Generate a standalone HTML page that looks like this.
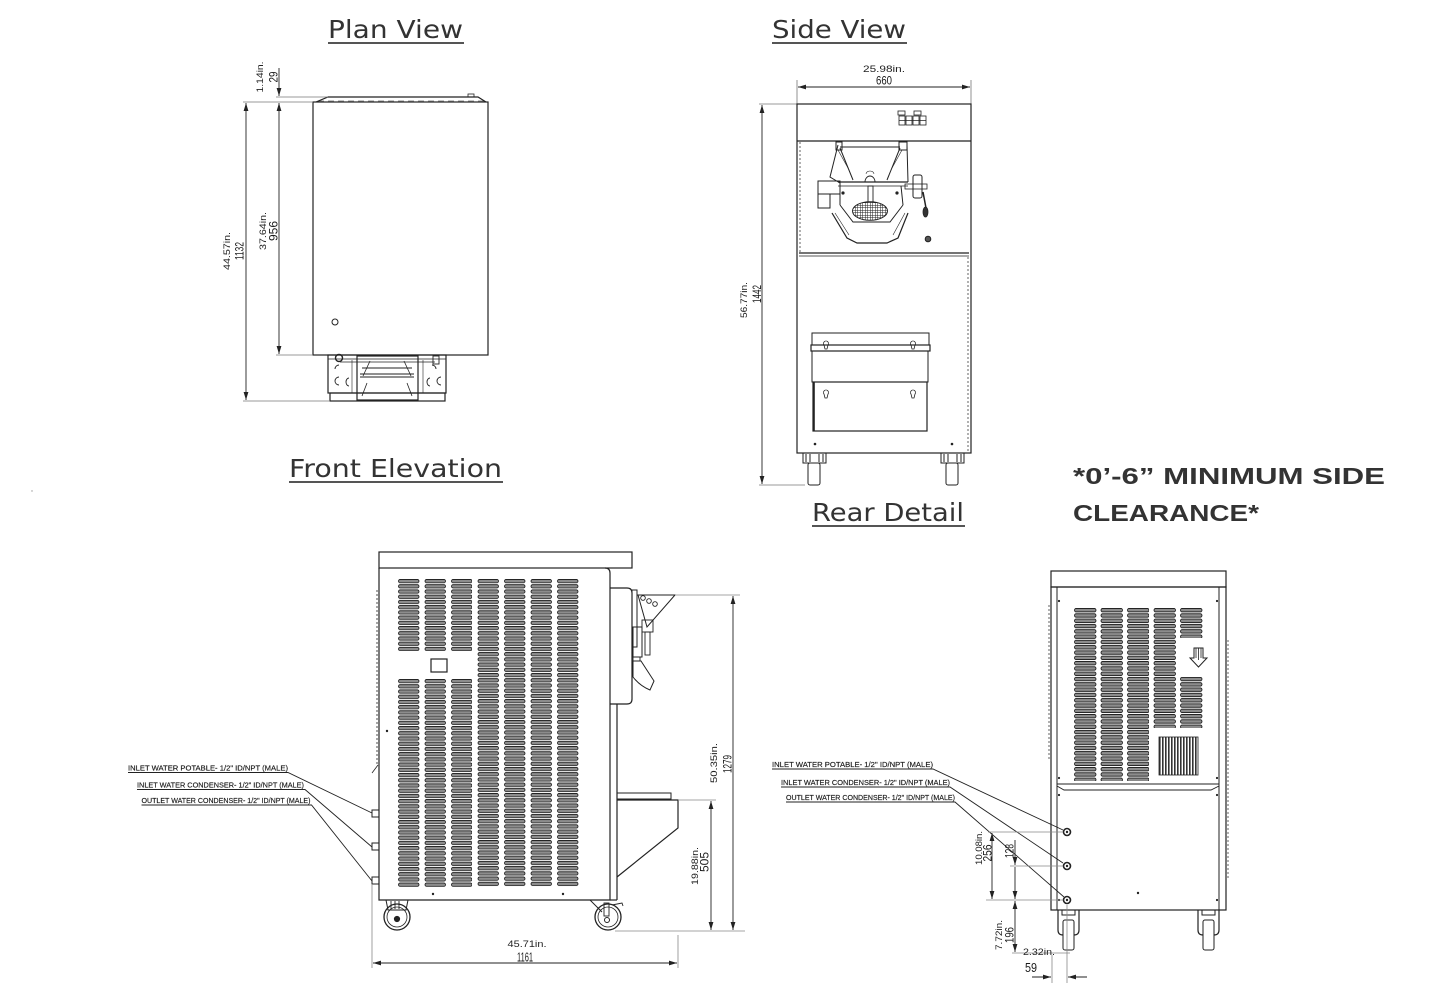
<!DOCTYPE html>
<html><head><meta charset="utf-8"><title>Dimensions</title>
<style>
html,body{margin:0;padding:0;background:#fff;}
svg{display:block;}
.t{font-family:"DejaVu Sans","Liberation Sans",sans-serif;fill:#333;}
.d{font-family:"Liberation Sans",sans-serif;fill:#222;}
.n{font-family:"Liberation Sans",sans-serif;fill:#1a1a1a;}
.l{font-family:"Liberation Sans",sans-serif;fill:#1a1a1a;stroke:#1a1a1a;stroke-width:0.15;}
.b{font-family:"Liberation Sans",sans-serif;fill:#333;font-weight:bold;}
</style></head>
<body>
<svg width="1436" height="986" viewBox="0 0 1436 986" xmlns="http://www.w3.org/2000/svg">
<defs>
<marker id="ar" viewBox="0 0 10 6" refX="10" refY="3" markerWidth="8" markerHeight="5" orient="auto-start-reverse" markerUnits="userSpaceOnUse"><path d="M0,0L10,3L0,6z" fill="#222"/></marker>
<pattern id="fs1" patternUnits="userSpaceOnUse" x="398" y="579" width="26.5" height="5.22"><rect x="0.5" y="0.4" width="20.5" height="3.4" rx="1.7" fill="#8c8c8c" stroke="#111" stroke-width="0.8"/></pattern>
<pattern id="fs2" patternUnits="userSpaceOnUse" x="398" y="679" width="26.5" height="5.22"><rect x="0.5" y="0.4" width="20.5" height="3.4" rx="1.7" fill="#8c8c8c" stroke="#111" stroke-width="0.8"/></pattern>
<pattern id="rs" patternUnits="userSpaceOnUse" x="1074" y="608" width="26.5" height="5.3"><rect x="0.5" y="0.4" width="21.5" height="3.5" rx="1.7" fill="#8c8c8c" stroke="#111" stroke-width="0.8"/></pattern>
<pattern id="vg" patternUnits="userSpaceOnUse" x="1159" y="737" width="3" height="10"><rect x="0" y="0" width="1.6" height="10" fill="#333"/></pattern>
<pattern id="grid" patternUnits="userSpaceOnUse" x="0" y="0" width="2.5" height="2.5"><rect width="2.5" height="2.5" fill="#fff"/><path d="M0,0H2.5M0,0V2.5" stroke="#222" stroke-width="1"/></pattern>
</defs>

<!-- ============ TITLES ============ -->
<text class="t" x="328" y="38" font-size="25" textLength="135" lengthAdjust="spacingAndGlyphs">Plan View</text>
<line x1="328" y1="43" x2="464" y2="43" stroke="#555" stroke-width="2"/>
<text class="t" x="772" y="38" font-size="25" textLength="134" lengthAdjust="spacingAndGlyphs">Side View</text>
<line x1="772" y1="43" x2="907" y2="43" stroke="#555" stroke-width="2"/>
<text class="t" x="289" y="477" font-size="25" textLength="213" lengthAdjust="spacingAndGlyphs">Front Elevation</text>
<line x1="289" y1="482" x2="503" y2="482" stroke="#555" stroke-width="2"/>
<text class="t" x="812" y="521" font-size="25" textLength="152" lengthAdjust="spacingAndGlyphs">Rear Detail</text>
<line x1="812" y1="526" x2="965" y2="526" stroke="#555" stroke-width="2"/>

<text class="b" x="1073" y="484" font-size="23" textLength="312" lengthAdjust="spacingAndGlyphs">*0’-6” MINIMUM SIDE</text>
<text class="b" x="1073" y="521" font-size="23" textLength="186" lengthAdjust="spacingAndGlyphs">CLEARANCE*</text>

<!-- ============ PLAN VIEW ============ -->
<g fill="none" stroke="#222" stroke-width="1.2">
<rect x="313" y="102" width="175" height="253"/>
<path d="M316,102 L328,97 L478,97 L486,102"/>
<rect x="468" y="94" width="6" height="3" stroke-width="0.8"/>
<line x1="318" y1="101" x2="484" y2="101" stroke-dasharray="6,4" stroke-width="0.6"/>
<circle cx="335" cy="322" r="3" stroke-width="1"/>
<rect x="328" y="355" width="118" height="38"/>
<rect x="330" y="393" width="115" height="8"/>
<rect x="357" y="356" width="61" height="44"/>
<line x1="328" y1="359" x2="446" y2="359" stroke-width="0.8"/>
<line x1="340" y1="362" x2="435" y2="362" stroke-width="0.8"/>
<line x1="362" y1="368" x2="412" y2="368" stroke-width="0.9"/>
<line x1="360" y1="374" x2="414" y2="374" stroke-width="0.9"/>
<line x1="360" y1="377" x2="414" y2="377" stroke-width="0.9"/>
<line x1="370" y1="361" x2="363" y2="376" stroke-width="0.8"/>
<line x1="404" y1="361" x2="411" y2="376" stroke-width="0.8"/>
<line x1="362" y1="396" x2="367" y2="383" stroke-width="0.8"/>
<line x1="412" y1="396" x2="407" y2="383" stroke-width="0.8"/>
<circle cx="339" cy="358" r="3.5" stroke-width="1.4"/>
<rect x="433" y="356" width="6" height="8" stroke-width="0.9"/>
<path d="M339,365 a4,4 0 0 0 -4,4" stroke-width="0.9"/>
<path d="M339,377 a4,4 0 0 0 0,8" stroke-width="0.9"/>
<path d="M349,378 a3,4 0 0 0 0,8" stroke-width="0.9"/>
<path d="M432,365 a4,4 0 0 1 4,4" stroke-width="0.9"/>
<path d="M441,377 a4,4 0 0 0 0,8" stroke-width="0.9"/>
<path d="M430,378 a3,4 0 0 0 0,8" stroke-width="0.9"/>
<line x1="352" y1="360" x2="352" y2="393" stroke-width="0.6"/>
<line x1="423" y1="360" x2="423" y2="393" stroke-width="0.6"/>
</g>
<g stroke="#777" stroke-width="0.8">
<line x1="243" y1="102" x2="313" y2="102"/>
<line x1="243" y1="401" x2="330" y2="401"/>
<line x1="276" y1="355" x2="313" y2="355"/>
<line x1="276" y1="97" x2="328" y2="97"/>
</g>
<g stroke="#222" stroke-width="0.9">
<line x1="246" y1="103" x2="246" y2="400" marker-start="url(#ar)" marker-end="url(#ar)"/>
<line x1="279" y1="103" x2="279" y2="354" marker-start="url(#ar)" marker-end="url(#ar)"/>
<line x1="279" y1="68" x2="279" y2="96" marker-end="url(#ar)"/>
</g>
<text class="d" font-size="9.5" text-anchor="middle" transform="translate(230,251) rotate(-90)" textLength="38" lengthAdjust="spacingAndGlyphs">44.57in.</text>
<text class="n" font-size="12" text-anchor="middle" transform="translate(243.5,251) rotate(-90)" textLength="18" lengthAdjust="spacingAndGlyphs">1132</text>
<text class="d" font-size="9.5" text-anchor="middle" transform="translate(266,231) rotate(-90)" textLength="38" lengthAdjust="spacingAndGlyphs">37.64in.</text>
<text class="n" font-size="12" text-anchor="middle" transform="translate(277.5,231) rotate(-90)" textLength="20" lengthAdjust="spacingAndGlyphs">956</text>
<text class="d" font-size="9.5" text-anchor="middle" transform="translate(263,77) rotate(-90)" textLength="31" lengthAdjust="spacingAndGlyphs">1.14in.</text>
<text class="n" font-size="12" text-anchor="middle" transform="translate(277.5,77) rotate(-90)" textLength="11" lengthAdjust="spacingAndGlyphs">29</text>

<!-- ============ SIDE VIEW ============ -->
<g stroke="#777" stroke-width="0.8">
<line x1="797" y1="80" x2="797" y2="104"/>
<line x1="971" y1="80" x2="971" y2="104"/>
<line x1="759" y1="104" x2="797" y2="104"/>
<line x1="759" y1="485" x2="805" y2="485"/>
</g>
<g stroke="#222" stroke-width="0.9">
<line x1="798" y1="87" x2="970" y2="87" marker-start="url(#ar)" marker-end="url(#ar)"/>
<line x1="762" y1="105" x2="762" y2="484" marker-start="url(#ar)" marker-end="url(#ar)"/>
</g>
<text class="d" font-size="9.5" text-anchor="middle" x="884" y="72" textLength="42" lengthAdjust="spacingAndGlyphs">25.98in.</text>
<text class="n" font-size="12" text-anchor="middle" x="884" y="84.5" textLength="16" lengthAdjust="spacingAndGlyphs">660</text>
<text class="d" font-size="9.5" text-anchor="middle" transform="translate(747,300) rotate(-90)" textLength="36" lengthAdjust="spacingAndGlyphs">56.77in.</text>
<text class="n" font-size="12" text-anchor="middle" transform="translate(761,294) rotate(-90)" textLength="18" lengthAdjust="spacingAndGlyphs">1442</text>
<g fill="none" stroke="#222" stroke-width="1.2">
<rect x="797" y="104" width="174" height="349"/>
<line x1="797" y1="141" x2="971" y2="141"/>
<line x1="799" y1="253" x2="969" y2="253"/>
<line x1="799" y1="256" x2="969" y2="256" stroke-width="0.8"/>
<line x1="800" y1="142" x2="800" y2="252" stroke-dasharray="2,2" stroke-width="0.7"/>
<line x1="968" y1="257" x2="968" y2="452" stroke-dasharray="2,2" stroke-width="0.7"/>
<g stroke-width="0.8">
<rect x="898" y="111" width="7" height="4"/><rect x="914" y="111" width="7" height="4"/>
<rect x="899" y="116" width="6" height="9"/><rect x="906" y="116" width="6" height="9"/><rect x="913" y="116" width="6" height="9"/><rect x="920" y="116" width="6" height="9"/>
<line x1="899" y1="120.5" x2="926" y2="120.5"/>
</g>
<path d="M838,145 L830,177 L840,183 M907,145 L908,182" stroke-width="1"/>
<rect x="836" y="142" width="6" height="8" stroke-width="1"/>
<rect x="899" y="142" width="8" height="8" stroke-width="1"/>
<line x1="840" y1="147" x2="900" y2="147" stroke-width="1"/>
<path d="M840,148 L853,180 M900,148 L887,180" stroke-width="1"/>
<path d="M838,150 L848,168" stroke-width="0.6"/>
<path d="M902,150 L892,168" stroke-width="0.6"/>
<line x1="838" y1="182" x2="908" y2="182"/>
<line x1="838" y1="186" x2="908" y2="186" stroke-width="0.8"/>
<path d="M865,182 a5,6 0 0 1 10,0" stroke-width="0.9"/>
<path d="M866,174 a4,3 0 0 1 8,0" stroke-width="0.6"/>
<rect x="868" y="186" width="5" height="24" stroke-width="0.9"/>
<ellipse cx="870" cy="211" rx="17.5" ry="9.3" fill="url(#grid)" stroke-width="1"/>
<rect x="818" y="181" width="22" height="13" stroke-width="1"/>
<rect x="818" y="194" width="12" height="14" stroke-width="1"/>
<line x1="840" y1="186" x2="840" y2="205" stroke-width="1"/>
<line x1="901" y1="186" x2="903" y2="205" stroke-width="1"/>
<path d="M840,205 L853,222 L890,222 L903,205" stroke-width="1"/>
<path d="M832,213 L847,238 L857,243 L887,243 L898,238 L908,213" stroke-width="1.2"/>
<path d="M835,213 L849,235 M905,213 L893,235" stroke-width="0.6"/>
<rect x="913" y="175" width="9" height="23" rx="2" stroke-width="1"/>
<rect x="905" y="184" width="22" height="5" stroke-width="0.8"/>
<path d="M923,192 L926,208" stroke-width="1.5"/>
<ellipse cx="925.5" cy="212" rx="2.5" ry="5" fill="#333" stroke-width="0.8"/>
<circle cx="928" cy="239" r="2.8" fill="#555" stroke-width="1"/>
<circle cx="843" cy="193" r="1" fill="#222"/><circle cx="897" cy="193" r="1" fill="#222"/>
<rect x="812" y="333" width="117" height="12" stroke-width="1"/>
<rect x="811" y="345" width="119" height="6" stroke-width="1.2"/>
<rect x="812" y="351" width="116" height="31" stroke-width="1"/>
<rect x="813" y="382" width="114" height="49" stroke-width="1.2"/>
<line x1="814" y1="382" x2="814" y2="431" stroke-width="1.6"/>
<path d="M824,345 a2.5,2.5 0 1 1 4,0 l-1,4 h-2 z" stroke-width="0.8"/>
<path d="M911,345 a2.5,2.5 0 1 1 4,0 l-1,4 h-2 z" stroke-width="0.8"/>
<path d="M824,394 a2.5,2.5 0 1 1 4,0 l-1,4 h-2 z" stroke-width="0.8"/>
<path d="M911,394 a2.5,2.5 0 1 1 4,0 l-1,4 h-2 z" stroke-width="0.8"/>
<rect x="803" y="453" width="23" height="10" stroke-width="1"/>
<path d="M806,454 v8 M810,454 v8 M819,454 v8 M823,454 v8" stroke-width="1"/>
<rect x="808" y="463" width="12" height="22" rx="2" stroke-width="1"/>
<rect x="941" y="453" width="23" height="10" stroke-width="1"/>
<path d="M944,454 v8 M948,454 v8 M957,454 v8 M961,454 v8" stroke-width="1"/>
<rect x="946" y="463" width="12" height="22" rx="2" stroke-width="1"/>
</g>
<circle cx="815" cy="444" r="1.3" fill="#222"/><circle cx="952" cy="444" r="1.3" fill="#222"/>

<!-- ============ FRONT ELEVATION ============ -->
<rect x="398" y="579" width="74" height="72" fill="url(#fs1)"/>
<rect x="477.5" y="579" width="101" height="308" fill="url(#fs1)"/>
<rect x="398" y="679" width="74" height="208" fill="url(#fs2)"/>
<g fill="none" stroke="#222" stroke-width="1.2">
<rect x="379" y="552" width="253" height="16"/>
<path d="M379,568 L379,900 L610,900 L610,573 Q610,568 605,568"/>
<path d="M610,588 L627,588 Q632,588 632,593 L632,699 Q632,704 627,704 L610,704"/>
<line x1="617" y1="704" x2="617" y2="900"/>
<line x1="610" y1="900" x2="617" y2="900"/>
<rect x="431" y="659" width="16" height="13"/>
<line x1="377" y1="590" x2="377" y2="765" stroke-dasharray="2,2" stroke-width="0.8"/>
<line x1="372" y1="773" x2="378" y2="765" stroke-width="0.8"/>
<rect x="632" y="590" width="5" height="57" stroke-width="1"/>
<path d="M638,595 L675,595 L647,627 Z" stroke-width="1"/>
<circle cx="643" cy="598" r="2.3" stroke-width="0.9"/>
<circle cx="649" cy="601" r="2.3" stroke-width="0.9"/>
<circle cx="655" cy="604" r="2.3" stroke-width="0.9"/>
<rect x="633" y="627" width="9" height="30" stroke-width="1"/>
<rect x="642" y="620" width="11" height="12" stroke-width="0.9"/>
<rect x="645" y="632" width="5" height="23" stroke-width="0.9"/>
<rect x="633" y="657" width="7" height="4" stroke-width="0.9"/>
<path d="M633,661 L641,661 L654,681 L650,690 Q640,686 633,677 Z" stroke-width="1"/>
<rect x="372" y="810" width="7" height="7" stroke-width="1"/>
<rect x="372" y="843" width="7" height="7" stroke-width="1"/>
<rect x="372" y="877" width="7" height="7" stroke-width="1"/>
<rect x="617" y="793" width="54" height="6" stroke-width="1"/>
<path d="M617,800 L678,800 L678,828 L617,877" stroke-width="1.2"/>
<path d="M386,900 L388,910 L406,910 L408,900" stroke-width="1"/>
<path d="M391,901 v8 M395,901 v8 M399,901 v8" stroke-width="0.9"/>
<circle cx="397" cy="917" r="13" stroke-width="1.3"/>
<circle cx="397" cy="917" r="10" stroke-width="0.8"/>
<circle cx="397" cy="919" r="2.5" fill="#222"/>
<path d="M590,900 L602,912" stroke-width="1"/>
<rect x="604" y="903" width="5" height="13" stroke-width="0.9"/>
<circle cx="608" cy="917" r="13" stroke-width="1.3"/>
<circle cx="608" cy="917" r="10" stroke-width="0.8"/>
<circle cx="607" cy="920" r="2.5" stroke-width="1"/>
<path d="M612,905 L622,903 L623,906" stroke-width="0.9"/>
</g>
<circle cx="387" cy="731" r="1.2" fill="#222"/>
<circle cx="433" cy="894" r="1.2" fill="#222"/>
<circle cx="563" cy="894" r="1.2" fill="#222"/>
<g stroke="#888" stroke-width="0.8">
<line x1="675" y1="595" x2="740" y2="595"/>
<line x1="615" y1="931" x2="745" y2="931"/>
<line x1="678" y1="800" x2="716" y2="800"/>
<line x1="372" y1="884" x2="372" y2="968"/>
<line x1="678" y1="935" x2="678" y2="968"/>
</g>
<g stroke="#222" stroke-width="0.9">
<line x1="733" y1="596" x2="733" y2="930" marker-start="url(#ar)" marker-end="url(#ar)"/>
<line x1="711" y1="801" x2="711" y2="930" marker-start="url(#ar)" marker-end="url(#ar)"/>
<line x1="373" y1="963" x2="677" y2="963" marker-start="url(#ar)" marker-end="url(#ar)"/>
</g>
<text class="d" font-size="9.5" text-anchor="middle" transform="translate(717,763) rotate(-90)" textLength="40" lengthAdjust="spacingAndGlyphs">50.35in.</text>
<text class="n" font-size="12" text-anchor="middle" transform="translate(731.5,764) rotate(-90)" textLength="18" lengthAdjust="spacingAndGlyphs">1279</text>
<text class="d" font-size="9.5" text-anchor="middle" transform="translate(698,866) rotate(-90)" textLength="38" lengthAdjust="spacingAndGlyphs">19.88in.</text>
<text class="n" font-size="12" text-anchor="middle" transform="translate(708.5,862) rotate(-90)" textLength="20" lengthAdjust="spacingAndGlyphs">505</text>
<text class="d" font-size="9.5" text-anchor="middle" x="527" y="947" textLength="39" lengthAdjust="spacingAndGlyphs">45.71in.</text>
<text class="n" font-size="13" text-anchor="middle" x="525" y="961.5" textLength="16" lengthAdjust="spacingAndGlyphs">1161</text>
<text class="l" font-size="7" x="128" y="770.5" textLength="160" lengthAdjust="spacingAndGlyphs">INLET  WATER  POTABLE- 1/2" ID/NPT (MALE)</text>
<text class="l" font-size="7" x="137" y="787.5" textLength="167" lengthAdjust="spacingAndGlyphs">INLET  WATER  CONDENSER- 1/2" ID/NPT (MALE)</text>
<text class="l" font-size="7" x="141.5" y="803" textLength="169" lengthAdjust="spacingAndGlyphs">OUTLET  WATER CONDENSER- 1/2" ID/NPT (MALE)</text>
<g stroke="#222" stroke-width="0.9" fill="none">
<polyline points="128,772.5 288,772.5 372,813"/>
<polyline points="137,789.5 305,789.5 372,847"/>
<polyline points="141.5,805 311.5,805 372,881"/>
</g>

<!-- ============ REAR DETAIL ============ -->
<rect x="1074" y="608" width="75" height="173" fill="url(#rs)"/>
<rect x="1153" y="608" width="23" height="120" fill="url(#rs)"/>
<rect x="1179.5" y="608" width="23" height="30" fill="url(#rs)"/>
<rect x="1179.5" y="677" width="23" height="51" fill="url(#rs)"/>
<rect x="1159" y="737" width="39" height="38" fill="url(#vg)" stroke="#222" stroke-width="0.8"/>
<g fill="none" stroke="#222" stroke-width="1.2">
<rect x="1051" y="571" width="175" height="16"/>
<rect x="1051" y="587" width="175" height="323"/>
<line x1="1057" y1="587" x2="1057" y2="910" stroke-width="1"/>
<line x1="1219" y1="587" x2="1219" y2="910" stroke-width="1"/>
<line x1="1049" y1="605" x2="1049" y2="760" stroke-dasharray="2,2" stroke-width="0.7"/>
<line x1="1228" y1="640" x2="1228" y2="880" stroke-dasharray="2,2" stroke-width="0.7"/>
<line x1="1057" y1="784" x2="1219" y2="784" stroke-width="0.9"/>
<polyline points="1057,786 1064,790 1211,790 1219,786" stroke-width="0.9"/>
<path d="M1194,648 L1203,648 L1203,658 L1207,658 L1198.5,667 L1190,658 L1194,658 Z" stroke-width="1"/>
<path d="M1196,648 v10 M1198.5,648 v12 M1201,648 v10" stroke-width="0.8"/>
<circle cx="1067" cy="832" r="3.5" stroke-width="1.6"/>
<circle cx="1067" cy="866" r="3.5" stroke-width="1.6"/>
<circle cx="1067" cy="900" r="3.5" stroke-width="1.6"/>
<path d="M1058,910 L1058,930 Q1058,935 1063,935 M1079,910 L1079,930 Q1079,935 1074,935" stroke-width="1.2"/>
<rect x="1062" y="910" width="13" height="5" stroke-width="1"/>
<rect x="1063" y="920" width="11" height="30" rx="2" stroke-width="1"/>
<path d="M1198,910 L1198,930 Q1198,935 1203,935 M1219,910 L1219,930 Q1219,935 1214,935" stroke-width="1.2"/>
<rect x="1202" y="910" width="13" height="5" stroke-width="1"/>
<rect x="1203" y="920" width="11" height="30" rx="2" stroke-width="1"/>
</g>
<g fill="#222">
<circle cx="1059" cy="601" r="1.1"/><circle cx="1217" cy="601" r="1.1"/>
<circle cx="1059" cy="778" r="1.1"/><circle cx="1217" cy="778" r="1.1"/>
<circle cx="1059" cy="795" r="1.1"/><circle cx="1217" cy="795" r="1.1"/>
<circle cx="1059" cy="900" r="1.1"/><circle cx="1217" cy="900" r="1.1"/>
<circle cx="1138" cy="893" r="1.2"/>
<circle cx="1067" cy="832" r="1.2"/><circle cx="1067" cy="866" r="1.2"/><circle cx="1067" cy="900" r="1.2"/>
</g>
<text class="l" font-size="7" x="772" y="767" textLength="161" lengthAdjust="spacingAndGlyphs">INLET  WATER  POTABLE- 1/2" ID/NPT (MALE)</text>
<text class="l" font-size="7" x="781" y="785" textLength="169" lengthAdjust="spacingAndGlyphs">INLET  WATER  CONDENSER- 1/2" ID/NPT (MALE)</text>
<text class="l" font-size="7" x="786" y="800" textLength="169" lengthAdjust="spacingAndGlyphs">OUTLET  WATER CONDENSER- 1/2" ID/NPT (MALE)</text>
<g stroke="#222" stroke-width="0.9" fill="none">
<polyline points="772,769 933,769 1063,830"/>
<polyline points="781,787 950,787 1063,863"/>
<polyline points="786,802 955,802 1064,897"/>
</g>
<g stroke="#888" stroke-width="0.8">
<line x1="988" y1="832" x2="1063" y2="832"/>
<line x1="1010" y1="866" x2="1063" y2="866"/>
<line x1="986" y1="900" x2="1063" y2="900"/>
<line x1="1012" y1="953" x2="1070" y2="953"/>
<line x1="1052" y1="955" x2="1052" y2="983"/>
<line x1="1067" y1="905" x2="1067" y2="983"/>
</g>
<g stroke="#222" stroke-width="0.9">
<line x1="992" y1="833" x2="992" y2="899" marker-start="url(#ar)" marker-end="url(#ar)"/>
<line x1="1015" y1="840" x2="1015" y2="865" marker-end="url(#ar)"/>
<line x1="1015" y1="867" x2="1015" y2="899" marker-end="url(#ar)"/>
<line x1="1015" y1="901" x2="1015" y2="952" marker-start="url(#ar)" marker-end="url(#ar)"/>
<line x1="1032" y1="977" x2="1051" y2="977" marker-end="url(#ar)"/>
<line x1="1087" y1="977" x2="1068" y2="977" marker-end="url(#ar)"/>
</g>
<text class="d" font-size="9.5" text-anchor="middle" transform="translate(982,848) rotate(-90)" textLength="34" lengthAdjust="spacingAndGlyphs">10.08in.</text>
<text class="n" font-size="12" text-anchor="middle" transform="translate(991.5,853) rotate(-90)" textLength="17" lengthAdjust="spacingAndGlyphs">256</text>
<text class="n" font-size="12" text-anchor="middle" transform="translate(1013.5,851) rotate(-90)" textLength="14" lengthAdjust="spacingAndGlyphs">128</text>
<text class="d" font-size="9.5" text-anchor="middle" transform="translate(1002,935) rotate(-90)" textLength="30" lengthAdjust="spacingAndGlyphs">7.72in.</text>
<text class="n" font-size="12" text-anchor="middle" transform="translate(1013.5,935) rotate(-90)" textLength="16" lengthAdjust="spacingAndGlyphs">196</text>
<text class="d" font-size="9.5" text-anchor="middle" x="1039" y="955" textLength="32" lengthAdjust="spacingAndGlyphs">2.32in.</text>
<text class="n" font-size="13" text-anchor="middle" x="1031" y="972" textLength="12" lengthAdjust="spacingAndGlyphs">59</text>

<circle cx="32" cy="491" r="0.7" fill="#999"/>
</svg>
</body></html>
